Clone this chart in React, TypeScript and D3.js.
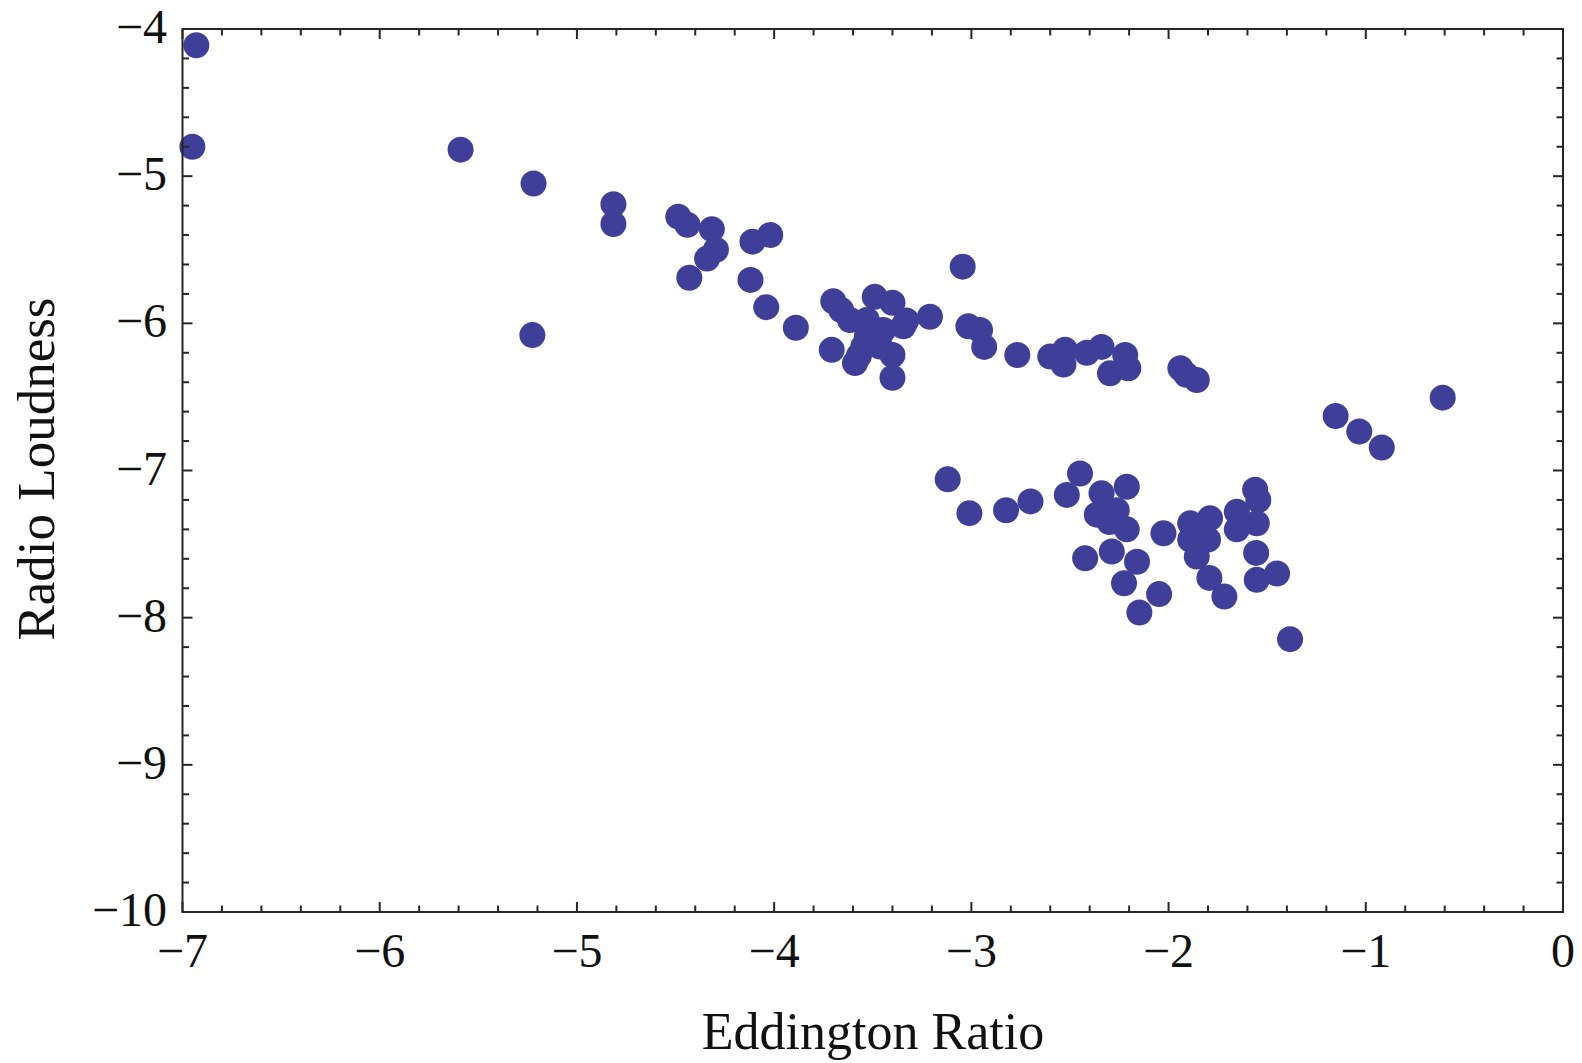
import React from "react";
import * as d3 from "d3";

const eddingtonRatio: number[] = [
  -6.93, -6.95, -5.59, -5.22, -4.815, -4.815, -4.486, -4.44, -4.316, -4.295, -4.34, -4.43,
  -4.11, -4.02, -4.12, -4.04, -3.89, -5.226,
  -3.044, -3.70, -3.708, -3.59, -3.49, -3.40, -3.345, -3.21, -3.40, -3.40, -3.615, -3.53,
  -3.463, -3.53, -3.548, -3.446, -3.66, -3.33, -3.50, -3.57,
  -3.015, -2.956, -2.935, -2.767, -2.60, -2.525, -2.533, -2.415, -2.34, -2.297, -2.22, -2.204,
  -1.94, -1.857, -1.91,
  -1.153, -1.033, -0.919, -0.61,
  -3.12, -3.01, -2.824, -2.70, -2.449, -2.516, -2.34, -2.212, -2.364, -2.263, -2.212, -2.30,
  -2.423, -2.288, -2.16, -2.226, -2.048, -2.148, -2.026, -1.89, -1.79, -1.89, -1.80, -1.857,
  -1.793, -1.717, -1.654, -1.654, -1.561, -1.545, -1.553, -1.556, -1.553, -1.45, -1.384,
];

const radioLoudness: number[] = [
  -4.11, -4.80, -4.82, -5.05, -5.19, -5.325, -5.275, -5.33, -5.36, -5.50, -5.56, -5.69,
  -5.445, -5.40, -5.705, -5.89, -6.03, -6.08,
  -5.615, -5.85, -6.18, -6.27, -5.82, -5.86, -6.02, -5.955, -6.37, -6.215, -5.977, -6.09,
  -6.158, -5.977, -6.158, -6.045, -5.91, -5.98, -6.12, -6.22,
  -6.02, -6.045, -6.16, -6.215, -6.226, -6.18, -6.28, -6.20, -6.16, -6.34, -6.215, -6.305,
  -6.305, -6.385, -6.35,
  -6.63, -6.735, -6.844, -6.505,
  -7.06, -7.29, -7.27, -7.21, -7.02, -7.166, -7.155, -7.11, -7.30, -7.27, -7.40, -7.35,
  -7.596, -7.55, -7.62, -7.766, -7.84, -7.965, -7.426, -7.358, -7.324, -7.47, -7.47, -7.585,
  -7.73, -7.857, -7.28, -7.40, -7.13, -7.20, -7.358, -7.56, -7.743, -7.70, -8.146,
];

const xTickValues: number[] = [-7, -6, -5, -4, -3, -2, -1, 0];
const yTickValues: number[] = [-4, -5, -6, -7, -8, -9, -10];
const xLabel = "Eddington Ratio";
const yLabel = "Radio Loudness";

const W = 1582;
const H = 1063;
const left = 182.5;
const right = 1563;
const top = 29;
const bottom = 912;

const fmt = (v: number) => (v < 0 ? "\u2212" + Math.abs(v) : String(v));

export default function App() {
  const x = d3.scaleLinear().domain([-7, 0]).range([left, right]);
  const y = d3.scaleLinear().domain([-10, -4]).range([bottom, top]);

  const xMinor = d3.range(-7, 0.0001, 0.2).map((v) => +v.toFixed(1));
  const yMinor = d3.range(-10, -3.9999, 0.2).map((v) => +v.toFixed(1));
  const isMajor = (v: number) => Math.abs(v - Math.round(v)) < 1e-6;

  const axisColor = "#262626";
  const font = "'Liberation Serif', 'Times New Roman', serif";

  return (
    <svg
      width={W}
      height={H}
      style={{ position: "absolute", left: 0, top: 0, background: "#fff" }}
    >
      <g fill="#3f3f99">
        {eddingtonRatio.map((e, i) => (
          <circle key={i} cx={x(e)} cy={y(radioLoudness[i])} r={13} />
        ))}
      </g>

      <g stroke={axisColor} strokeWidth={2}>
        {xMinor.map((v, i) => {
          const len = isMajor(v) ? 10 : 6.5;
          return (
            <g key={"xt" + i}>
              <line x1={x(v)} x2={x(v)} y1={bottom} y2={bottom - len} />
              <line x1={x(v)} x2={x(v)} y1={top} y2={top + len} />
            </g>
          );
        })}
        {yMinor.map((v, i) => {
          const len = isMajor(v) ? 10 : 6.5;
          return (
            <g key={"yt" + i}>
              <line x1={left} x2={left + len} y1={y(v)} y2={y(v)} />
              <line x1={right} x2={right - len} y1={y(v)} y2={y(v)} />
            </g>
          );
        })}
      </g>

      <rect
        x={left}
        y={top}
        width={right - left}
        height={bottom - top}
        fill="none"
        stroke={axisColor}
        strokeWidth={2}
      />

      <g fontFamily={font} fontSize={48} fill="#111">
        {xTickValues.map((v) => (
          <text key={"xl" + v} x={x(v)} y={967} textAnchor="middle">
            {fmt(v)}
          </text>
        ))}
        {yTickValues.map((v) => (
          <text key={"yl" + v} x={167} y={y(v) + 14} textAnchor="end">
            {fmt(v)}
          </text>
        ))}
      </g>

      <text
        x={873}
        y={1049}
        textAnchor="middle"
        fontFamily={font}
        fontSize={52}
        fill="#111"
      >
        {xLabel}
      </text>
      <text
        transform={`translate(54, 469) rotate(-90)`}
        textAnchor="middle"
        fontFamily={font}
        fontSize={53}
        fill="#111"
      >
        {yLabel}
      </text>
    </svg>
  );
}
